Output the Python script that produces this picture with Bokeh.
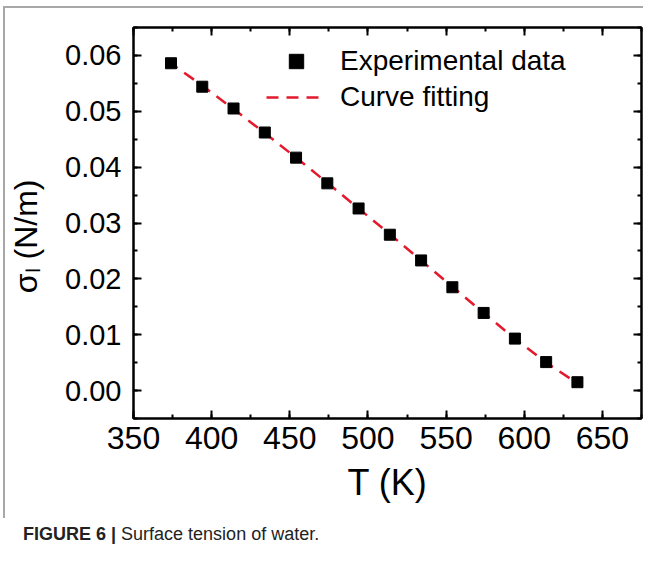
from bokeh.plotting import figure
from bokeh.layouts import column
from bokeh.models import (Range1d, LinearAxis, SingleIntervalTicker, PrintfTickFormatter,
                          CustomJSTickFormatter, Legend, LegendItem, Div)
from bokeh.embed import file_html
from bokeh.resources import INLINE

# ---- data ----
temperature_K = [374, 394, 414, 434, 454, 474, 494, 514, 534, 554, 574, 594, 614, 634]
sigma_exp = [0.0586, 0.0544, 0.0505, 0.0462, 0.0417, 0.0371, 0.0326, 0.0279,
             0.0233, 0.0185, 0.0139, 0.0093, 0.0051, 0.0015]
fit_T = [372, 394, 414, 434, 454, 474, 494, 514, 534, 554, 574, 594, 614, 634]
fit_sigma = [0.0590, 0.0546, 0.0504, 0.0461, 0.0417, 0.0372, 0.0326, 0.0280,
             0.0233, 0.0186, 0.0139, 0.0093, 0.0050, 0.0013]

x_label = "T (K)"
y_label = "σₗ (N/m)"
legend_labels = ["Experimental data", "Curve fitting"]
caption_bold = "FIGURE 6 |"
caption_text = "Surface tension of water."

FONT = "Liberation Sans"
RED = "#e3192d"

p = figure(width=640, height=512, output_backend="svg", toolbar_location=None,
           x_range=Range1d(350, 675), y_range=Range1d(-0.005, 0.065),
           min_border_left=127, min_border_right=4, min_border_top=19, min_border_bottom=102,
           margin=(6, 0, 0, 3),
           styles={"border-top": "2px solid #a8a8a8", "border-left": "2px solid #a8a8a8"})
p.background_fill_color = "white"
p.border_fill_color = "white"
p.outline_line_color = "black"
p.outline_line_width = 2
p.grid.visible = False

xt = SingleIntervalTicker(interval=50, num_minor_ticks=2)
yt = SingleIntervalTicker(interval=0.01, num_minor_ticks=2)

def style_axis(ax, show_labels):
    ax.axis_line_width = 2
    ax.major_tick_line_width = 2
    ax.minor_tick_line_width = 2
    ax.major_tick_in = 8
    ax.major_tick_out = 0
    ax.minor_tick_in = 4
    ax.minor_tick_out = 0
    ax.major_label_text_font = FONT
    ax.major_label_text_color = "black"
    ax.axis_label_text_font = FONT
    ax.axis_label_text_font_style = "normal"
    ax.axis_label_text_color = "black"
    if not show_labels:
        ax.formatter = CustomJSTickFormatter(code="return ''")
        ax.major_label_standoff = 0

p.xaxis.ticker = xt
p.yaxis.ticker = yt
p.yaxis.formatter = PrintfTickFormatter(format="%.2f")
style_axis(p.xaxis[0], True)
style_axis(p.yaxis[0], True)
p.xaxis.major_label_text_font_size = "32px"
p.yaxis.major_label_text_font_size = "29px"
p.xaxis.major_label_standoff = 8
p.yaxis.major_label_standoff = 12
p.xaxis.axis_label = x_label
p.xaxis.axis_label_text_font_size = "36px"
p.xaxis.axis_label_standoff = 10
# trailing no-break spaces move the rotated title slightly down, as in the reference
p.yaxis.axis_label = y_label + "\u00a0\u00a0\u00a0"
p.yaxis.axis_label_text_font_size = "32px"
p.yaxis.axis_label_standoff = 18

top = LinearAxis(ticker=xt)
right = LinearAxis(ticker=yt)
style_axis(top, False)
style_axis(right, False)
p.add_layout(top, "above")
p.add_layout(right, "right")

line = p.line(fit_T, fit_sigma, line_color=RED, line_width=2.5, line_dash="12 8")
pts = p.scatter(temperature_K, sigma_exp, marker="square", size=11,
                fill_color="black", line_color="black")

legend = Legend(items=[LegendItem(label=legend_labels[0], renderers=[pts]),
                       LegendItem(label=legend_labels[1], renderers=[line])],
                location=(133, 303), padding=0, margin=0, spacing=0,
                glyph_width=60, glyph_height=36, label_height=36, label_standoff=14,
                label_text_font=FONT, label_text_font_size="28px", label_text_color="black",
                border_line_color=None, background_fill_alpha=0)
p.add_layout(legend, "center")

caption = Div(text=f"<b>{caption_bold}</b> {caption_text}", width=620, height=40,
              margin=(0, 0, 0, 0),
              styles={"font-family": "'Liberation Sans', Arial, sans-serif",
                      "font-size": "18px", "line-height": "20px", "color": "#222222",
                      "padding-left": "23px", "padding-top": "6px"})

layout = column(p, caption, spacing=0)

open("out.html", "w").write(file_html(layout, INLINE))
